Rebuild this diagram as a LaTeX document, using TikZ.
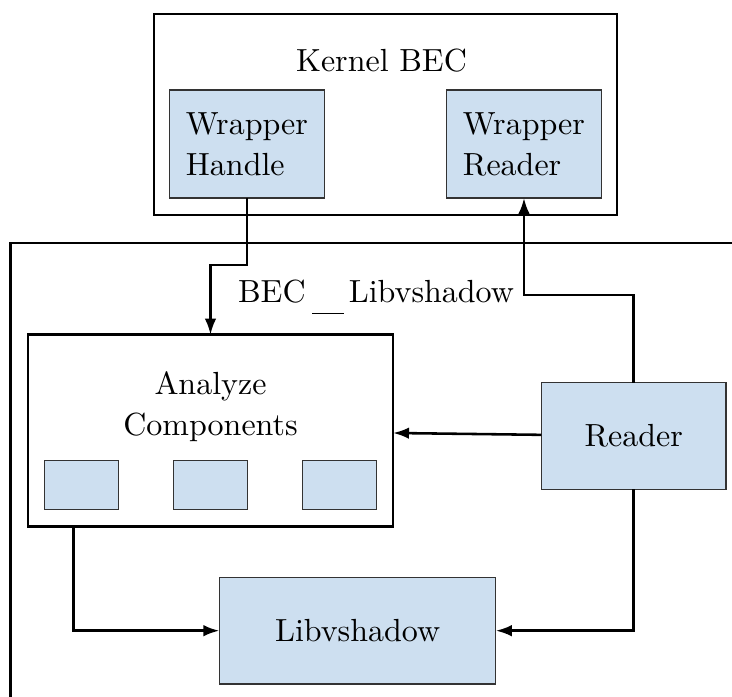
\documentclass[tikz,border=0pt]{standalone}
\usetikzlibrary{arrows.meta,calc}
\definecolor{boxblue}{RGB}{205,223,240}
\tikzset{
  sz/.style 2 args={minimum width={#1*0.3125pt}, minimum height={#2*0.3125pt}},
  frame/.style={draw=black, line width=0.8pt, inner sep=0pt, outer sep=0pt},
  bluebox/.style={draw=black!80, line width=0.4pt, fill=boxblue, inner sep=0pt, outer sep=0pt, align=left},
  link/.style={line width=0.8pt, -{Latex[length=5pt,width=3.6pt]}},
  txt/.style={inner sep=0pt, outer sep=0pt}
}
\begin{document}
\begin{tikzpicture}[x=0.3125pt, y=-0.3125pt, font=\fontsize{10}{12.8}\selectfont]
\useasboundingbox (0,0) rectangle (732,697);
\clip (0,0) rectangle (732,697);

% outer library frame (runs past the right and bottom edges)
\node[frame, sz={730}{480}] (libframe) at (375.5,483) {};
\node[txt, anchor=base] (libtitle) at (376,302)
  {BEC\kern2pt\rule[-3.9pt]{10.1pt}{0.6pt}\kern1.4pt Libvshadow};

% kernel side
\node[frame, sz={463}{201}] (kernel) at (385.5,114.5) {};
\node[txt] (kerneltitle) at (381.5,61) {Kernel BEC};
\node[bluebox, sz={155}{108}] (whandle) at (247,144) {Wrapper\\Handle};
\node[bluebox, sz={155}{108}] (wreader) at (524,144) {Wrapper\\Reader};

% analysis block
\node[frame, sz={365}{192}] (analyze) at (210.5,430.7) {};
\node[txt, align=center] (analyzetitle) at (210.5,406.5) {Analyze\\Components};
\node[bluebox, sz={74}{48.6}] (compa) at (81.5,485) {};
\node[bluebox, sz={74}{48.6}] (compb) at (210.5,485) {};
\node[bluebox, sz={74}{48.6}] (compc) at (339.5,485) {};

\node[bluebox, sz={184.5}{106.6}] (reader) at (633.7,436) {Reader};
\node[bluebox, sz={276.4}{106.7}] (libv) at (357.6,630.7) {Libvshadow};

% connectors
\coordinate (hstep) at (247,265);
\coordinate (rstep) at (633.7,295);
\coordinate (astart) at (73.3,526.7);
\draw[link] (whandle.south) -- (hstep) -| (analyze.north);
\draw[link] (reader.north) -- (rstep) -| (wreader.south);
\draw[link] (reader) -- (analyze);
\draw[link] (astart) |- (libv.west);
\draw[link] (reader.south) |- (libv.east);
\end{tikzpicture}
\end{document}
